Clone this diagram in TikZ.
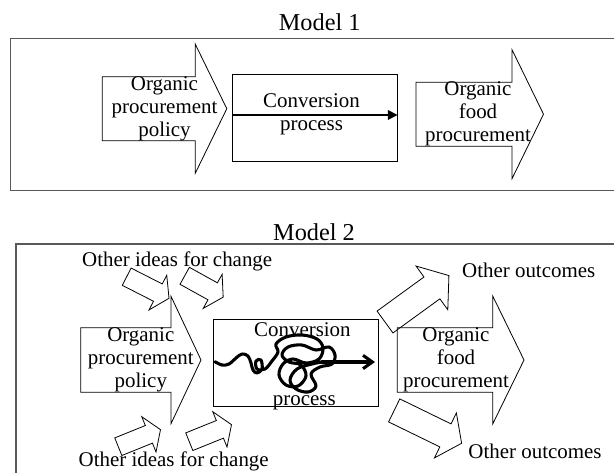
\documentclass[tikz,border=0pt]{standalone}
\usepackage{fontspec}
\setmainfont{Liberation Serif}
\usepackage{tikz}
\usetikzlibrary{arrows.meta, fit}

\begin{document}
\begin{tikzpicture}[
    x=0.75pt, y=-0.75pt,
    font=\fontsize{15.7}{17.25}\selectfont,
    outline/.style={draw, line width=0.6pt, line join=miter},
    frame/.style={draw=black!65, line width=0.9pt},
    convbox/.style={draw, line width=0.7pt, inner sep=0pt},
    txt/.style={inner sep=0pt, align=center},
    lbl/.style={inner sep=0pt, anchor=base},
    title/.style={inner sep=0pt, anchor=base, font=\fontsize{18.2}{20}\selectfont},
    flow/.style={line width=2.3pt, line cap=round, line join=round},
    pics/blkarrow/.style args={#1/#2/#3/#4}{code={
      \draw[outline] (0,-#2) -- (#1,-#2) -- (#1,-#3) -- ({#1+#4},0)
        -- (#1,#3) -- (#1,#2) -- (0,#2) -- cycle;
    }}
  ]
  \useasboundingbox (0,0) rectangle (614,472);

  % Model 1
  \node[title] (m1) at (319.7,30) {Model 1};
  \draw[frame] (616,38.5) -- (10.7,38.5) -- (10.7,190.7) -- (616,190.7);
  \pic at (102.3,108.7) {blkarrow=93/32/64.5/31.5};
  \pic at (416,114.2) {blkarrow=96/32/64.5/31.5};
  \node[convbox, fit={(232.3,74) (397.3,161.3)}] (conv1) {};
  \draw[line width=2pt, -{Triangle[length=7.5pt,width=7pt]}]
    ([yshift=2pt]conv1.west) -- ([yshift=2pt]conv1.east);
  \node[txt] (pol1) at (164.5,108.7) {Organic\\procurement\\policy};
  \node[txt] (conv1txt) at (311.5,114) {Conversion\\process};
  \node[txt] (food1) at (478,114.2) {Organic\\food\\procurement};

  % Model 2
  \node[title] (m2) at (314,240.7) {Model 2};
  \draw[frame] (616,244) -- (16,244) -- (16,474);
  \pic at (80.7,360) {blkarrow=90.3/32.3/63.7/30};
  \pic at (397.3,360) {blkarrow=95.4/32.3/64/31.3};
  \node[convbox, fit={(213.3,319.3) (378.7,406)}] (conv2) {};
  \node[txt] (pol2) at (140.8,360) {Organic\\procurement\\policy};
  \node[txt] (food2) at (456,360) {Organic\\food\\procurement};
  \node[lbl] (conv2a) at (302.4,336.7) {Conversion};
  \node[lbl] (conv2b) at (304.3,405) {process};

  % tangled conversion
  \draw[flow] plot[smooth, tension=0.6] coordinates {
    (215,361.7) (222,365) (229,364) (236,358) (242,354) (248,356)
    (251,363) (253,370) (257,373) (262,369) (261,360) (256,361) (257,369)
    (265,369) (272,361) (278,352) (276,344) (286,337) (302,335) (317,339)
    (323,348) (319,359) (306,363) (293,359) (283,364) (279,375) (286,385)
    (298,386) (306,376) (301,365) (289,362) (282,355) (288,347) (302,345)
    (316,350) (329,347) (335,355) (332,364) (320,367) (311,374) (316,386)
    (308,392) (296,389) (290,380) (297,369) (312,364) (322,362)};
  \draw[flow, -{Straight Barb[length=7pt,width=10pt]}] (322,362) -- (375,362);

  % other ideas and outcomes
  \node[lbl] (idea1) at (177.2,266.7) {Other ideas for change};
  \node[lbl] (idea2) at (173.7,466.5) {Other ideas for change};
  \node[lbl] (out1) at (528.7,277.5) {Other outcomes};
  \node[lbl] (out2) at (535,458) {Other outcomes};
  \pic[rotate=-27] at (126.7,276.7) {blkarrow=35/9.7/19.5/12.5};
  \pic[rotate=-29] at (184.7,275.8) {blkarrow=32/9.7/19.5/12};
  \pic[rotate=22] at (118.3,446.7) {blkarrow=33/9.5/19/12.5};
  \pic[rotate=22] at (189.3,441.7) {blkarrow=33/9.5/19/12.5};
  \pic[rotate=36] at (385,322) {blkarrow=58/13.5/27/21};
  \pic[rotate=-26] at (394.2,410.4) {blkarrow=57/12.8/25/18};
\end{tikzpicture}
\end{document}
